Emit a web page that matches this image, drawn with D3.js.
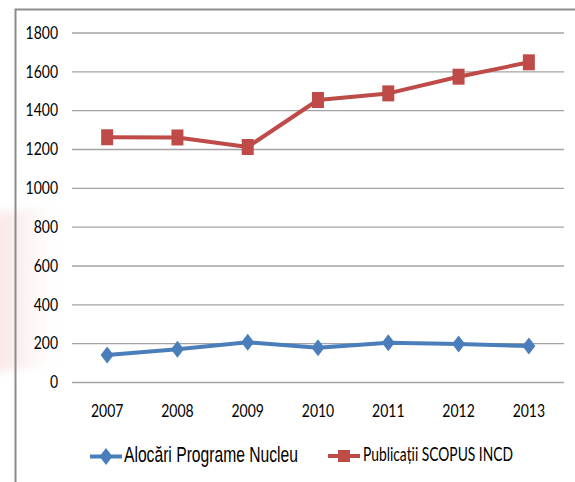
<!DOCTYPE html>
<html>
<head>
<meta charset="utf-8">
<script src="https://cdn.jsdelivr.net/npm/d3@7"></script>
<style>
  body { margin: 0; background: #fff; }
  .tick-label { font-family: Lato, "Open Sans", sans-serif; fill: #000; }
  .legend-arial { font-family: "Liberation Sans", Arial, sans-serif; fill: #000; }
  .legend-calibri { font-family: Lato, "Open Sans", sans-serif; fill: #000; }
</style>
</head>
<body>
<div id="chart"></div>
<script>
// chart data
let years = ['2007', '2008', '2009', '2010', '2011', '2012', '2013'];
let alocari = [142, 171, 207, 179, 205, 198, 188];
let publicatii = [1263, 1262, 1213, 1455, 1489, 1575, 1649];
let yTicks = [0, 200, 400, 600, 800, 1000, 1200, 1400, 1600, 1800];
let seriesNames = ['Alocări Programe Nucleu', 'Publicații SCOPUS INCD'];

// page and chart parameters
let svgWidth = 575;
let svgHeight = 482;
let plot = { left: 72, right: 564, top: 33, bottom: 382.5 };
// the source picture is stretched vertically, text too
let textStretch = 1.3;

let svg = d3.select('#chart')
  .append('svg')
  .attr('width', svgWidth)
  .attr('height', svgHeight);

// faint pink smudge at the left edge of the picture
let defs = svg.append('defs');
let grad = defs.append('linearGradient')
  .attr('id', 'pink')
  .attr('x1', 0).attr('x2', 1).attr('y1', 0).attr('y2', 0);
grad.append('stop').attr('offset', '0%').attr('stop-color', '#f9e5e5');
grad.append('stop').attr('offset', '40%').attr('stop-color', '#fcf0f0');
grad.append('stop').attr('offset', '100%').attr('stop-color', '#ffffff').attr('stop-opacity', 0);
defs.append('filter').attr('id', 'soft')
  .append('feGaussianBlur').attr('stdDeviation', 5);

svg.append('path')
  .attr('d', 'M-10,214 L70,202 L70,366 L-10,372 Z')
  .attr('fill', 'url(#pink)')
  .attr('filter', 'url(#soft)');

// frame (only top and left edges are visible)
svg.append('path')
  .attr('d', `M15.5,482 L15.5,9.5 L575,9.5`)
  .attr('fill', 'none')
  .attr('stroke', '#8c8c8c')
  .attr('stroke-width', 2);

// scales
let xScale = d3.scaleBand()
  .domain(years)
  .range([plot.left, plot.right]);

let yScale = d3.scaleLinear()
  .domain([0, 1800])
  .range([plot.bottom, plot.top]);

// gridlines
svg.append('g')
  .selectAll('line')
  .data(yTicks)
  .enter()
  .append('line')
  .attr('x1', plot.left)
  .attr('x2', plot.right)
  .attr('y1', d => yScale(d))
  .attr('y2', d => yScale(d))
  .attr('stroke', '#a3a3a3')
  .attr('stroke-width', 1.3);

// y axis labels
svg.append('g')
  .selectAll('text')
  .data(yTicks)
  .enter()
  .append('text')
  .classed('tick-label', true)
  .attr('transform', d => `translate(58, ${yScale(d) + 5.8}) scale(1, ${textStretch})`)
  .attr('text-anchor', 'end')
  .attr('font-size', '14px')
  .text(d => d);

// x axis labels
let cx = d => xScale(d) + xScale.bandwidth() / 2;

svg.append('g')
  .selectAll('text')
  .data(years)
  .enter()
  .append('text')
  .classed('tick-label', true)
  .attr('transform', d => `translate(${cx(d)}, 417) scale(1, ${textStretch})`)
  .attr('text-anchor', 'middle')
  .attr('font-size', '14px')
  .text(d => d);

let blue = '#4a7ebb';
let red = '#be4b48';

let line = d3.line()
  .x(d => cx(d.year))
  .y(d => yScale(d.value));

// diamond and square marker shapes (a bit taller than wide, like the picture)
function diamond(x, y) {
  return `M${x},${y - 8.5} L${x + 6.5},${y} L${x},${y + 8.5} L${x - 6.5},${y} Z`;
}
function square(x, y) {
  return `M${x - 6},${y - 8} h12 v16 h-12 Z`;
}

// red series: Publicatii SCOPUS INCD
let redData = years.map((y, i) => ({ year: y, value: publicatii[i] }));
svg.append('path')
  .datum(redData)
  .attr('d', line)
  .attr('fill', 'none')
  .attr('stroke', red)
  .attr('stroke-width', 4)
  .attr('stroke-linejoin', 'round');

svg.append('g')
  .selectAll('path')
  .data(redData)
  .enter()
  .append('path')
  .attr('d', d => square(cx(d.year), yScale(d.value)))
  .attr('fill', red);

// blue series: Alocari Programe Nucleu
let blueData = years.map((y, i) => ({ year: y, value: alocari[i] }));
svg.append('path')
  .datum(blueData)
  .attr('d', line)
  .attr('fill', 'none')
  .attr('stroke', blue)
  .attr('stroke-width', 4)
  .attr('stroke-linejoin', 'round');

svg.append('g')
  .selectAll('path')
  .data(blueData)
  .enter()
  .append('path')
  .attr('d', d => diamond(cx(d.year), yScale(d.value)))
  .attr('fill', blue);

// legend
let legend = svg.append('g');

legend.append('line')
  .attr('x1', 90).attr('x2', 122)
  .attr('y1', 456.5).attr('y2', 456.5)
  .attr('stroke', blue)
  .attr('stroke-width', 4);
legend.append('path')
  .attr('d', diamond(106, 456.5))
  .attr('fill', blue);
legend.append('text')
  .classed('legend-arial', true)
  .attr('transform', `translate(124, 461.5) scale(1, 1.35)`)
  .attr('font-size', '16.5px')
  .attr('textLength', 174)
  .attr('lengthAdjust', 'spacingAndGlyphs')
  .text(seriesNames[0]);

legend.append('line')
  .attr('x1', 328).attr('x2', 360)
  .attr('y1', 456).attr('y2', 456)
  .attr('stroke', red)
  .attr('stroke-width', 4);
legend.append('path')
  .attr('d', `M338,450 h12 v12 h-12 Z`)
  .attr('fill', red);
legend.append('text')
  .classed('legend-calibri', true)
  .attr('transform', `translate(363, 461) scale(1, 1.25)`)
  .attr('font-size', '15px')
  .attr('textLength', 150)
  .attr('lengthAdjust', 'spacingAndGlyphs')
  .text(seriesNames[1]);
</script>
</body>
</html>
